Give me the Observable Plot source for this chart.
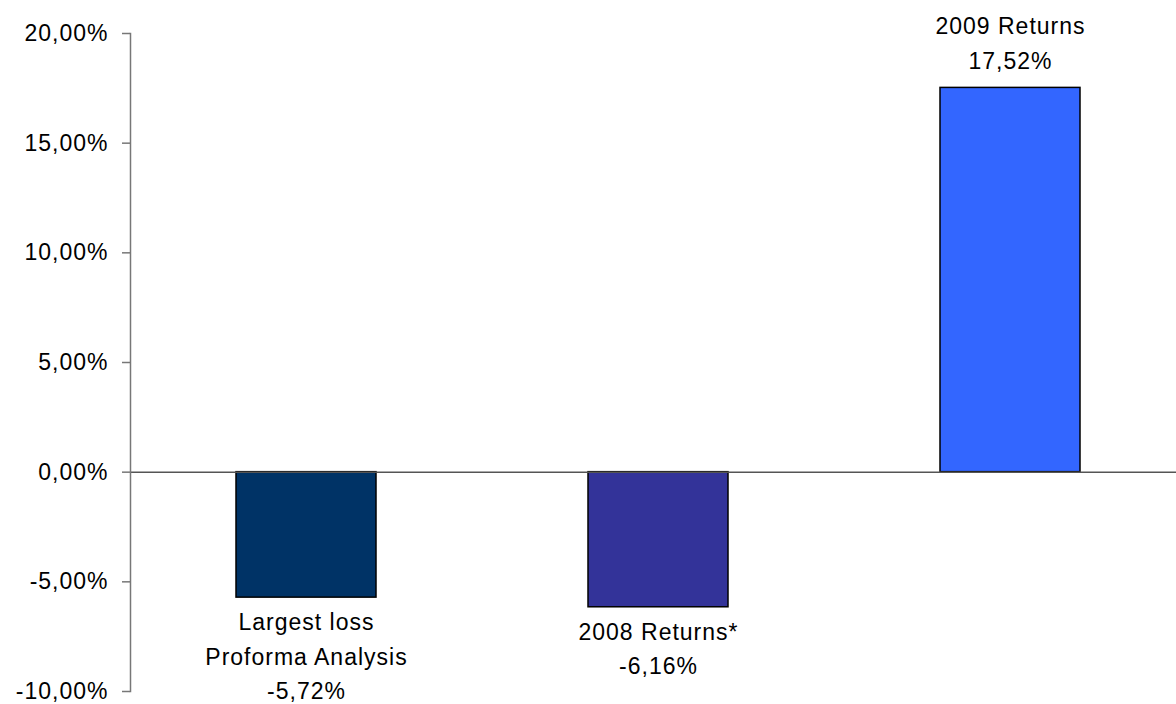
<!DOCTYPE html>
<html>
<head>
<meta charset="utf-8">
<script src="https://cdn.jsdelivr.net/npm/d3@7"></script>
<script src="https://cdn.jsdelivr.net/npm/@observablehq/plot@0.6"></script>
<style>
  html, body { margin: 0; padding: 0; background: #fff; }
  #chart svg { display: block; }
</style>
</head>
<body>
<div id="chart"></div>
<script>
const categories = ["Largest loss\nProforma Analysis", "2008 Returns*", "2009 Returns"];
const values = [-5.72, -6.16, 17.52];
const colors = ["#003366", "#333399", "#3366FF"];
const yTicks = [-10, -5, 0, 5, 10, 15, 20];

const locale = d3.formatLocale({decimal: ",", thousands: ".", grouping: [3], currency: ["", "€"], minus: "-"});
const fmt = locale.format(".2f");
const pct = v => fmt(v) + "%";

const data = categories.map((c, i) => ({cat: c, value: values[i], color: colors[i], label: c + "\n" + pct(values[i])}));
const neg = data.filter(d => d.value < 0);
const pos = data.filter(d => d.value >= 0);

const chart = Plot.plot({
  width: 1176,
  height: 704,
  marginLeft: 130,
  marginRight: 0,
  marginTop: 33,
  marginBottom: 13,
  style: {fontFamily: "'Liberation Sans', Arial, sans-serif", fontSize: "23px", color: "#000", background: "#fff"},
  x: {type: "band", domain: categories, range: [130, 1186], paddingInner: 0.6023, paddingOuter: 0.301, axis: null},
  y: {domain: [-10, 20], axis: null},
  marks: [
    Plot.barY(data, {x: "cat", y: "value", fill: "color", stroke: "#000", strokeWidth: 1.5}),
    Plot.ruleY([0], {stroke: "#555", strokeWidth: 1.5}),
    Plot.frame({anchor: "left", stroke: "#777", strokeWidth: 1.5}),
    Plot.axisY(yTicks, {anchor: "left", tickSize: 8, tickPadding: 14, tickFormat: pct, stroke: "#777", strokeWidth: 1.5, fill: "#000", fontSize: 23, label: null})
    ,
    Plot.text(neg, {x: "cat", y: "value", text: "label", lineAnchor: "top", lineHeight: 1.5, dy: 8, fill: "#000", fontSize: 23}),
    Plot.text(pos, {x: "cat", y: "value", text: "label", lineAnchor: "bottom", lineHeight: 1.5, dy: -19, fill: "#000", fontSize: 23})
  ]
});

d3.select(chart).selectAll("text").attr("letter-spacing", "1px");
document.getElementById("chart").appendChild(chart);
</script>
</body>
</html>
